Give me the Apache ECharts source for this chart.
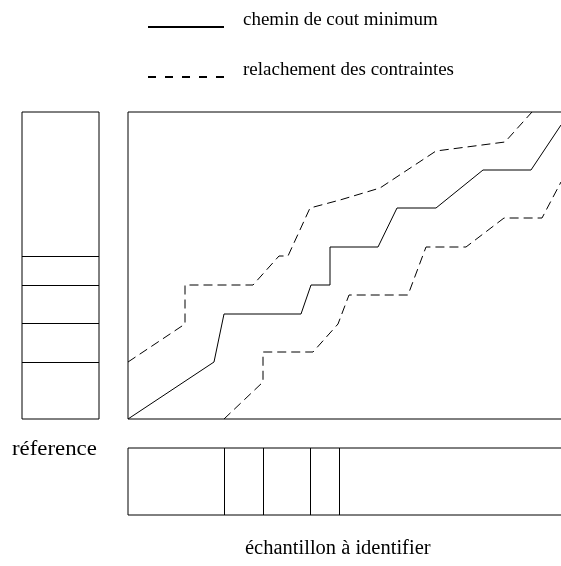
<!DOCTYPE html>
<html>
<head>
<meta charset="utf-8">
<script src="https://cdn.jsdelivr.net/npm/echarts@6/dist/echarts.min.js"></script>
<style>
  html, body { margin: 0; padding: 0; background: #fff; }
  #chart { width: 561px; height: 566px; }
</style>
</head>
<body>
<div id="chart"></div>
<script>
// path points [sample index, reference index]
const minCostPath = [[0, 0], [86, 57], [96, 105], [173, 105], [183, 134], [202, 134], [202, 172], [250, 172],
  [269, 211], [308, 211], [355, 249], [403, 249], [433, 294]];
const upperBound = [[0, 57], [57, 95], [57, 134], [125, 134], [151, 163], [160, 163], [182, 211], [212, 219],
  [252, 231], [308, 268], [377, 277], [404, 307]];
const lowerBound = [[96, 0], [135, 37], [135, 67], [185, 67], [210, 95], [221, 124], [280, 124], [298, 172],
  [338, 172], [376, 201], [414, 201], [433, 237]];

// segment boundaries of reference (vertical) and sample (horizontal)
const refBounds = [57, 96, 134, 163];
const sampleBounds = [96, 135, 182, 211];

const refLength = 307;
const sampleLength = 450; // runs past the right edge of the page

const labels = {
  path: 'chemin de cout minimum',
  relax: 'relachement des contraintes',
  ref: 'réference',
  sample: 'échantillon à identifier',
};

const font = '"Liberation Serif", "Times New Roman", serif';
const dash = [9, 5];

const chart = echarts.init(document.getElementById('chart'));

const hiddenAxis = (gridIndex, max) => ({
  type: 'value', gridIndex, min: 0, max,
  axisLine: { show: false }, axisTick: { show: false },
  axisLabel: { show: false }, splitLine: { show: false },
});

const gridBox = {
  show: true, borderColor: '#000', borderWidth: 1, backgroundColor: 'transparent',
  outerBoundsMode: 'none',
};

// legend draws only the line samples, the captions are placed next to them
const legendKey = (name, top, lineType) => ({
  left: 147, top, padding: 0,
  itemWidth: 76, itemHeight: 14,
  selectedMode: false,
  itemStyle: { opacity: 0 },
  lineStyle: { type: lineType },
  formatter: () => '',
  textStyle: { fontSize: 10 },
  data: [name],
});

const caption = (text, x, y, size, scaleX) => ({
  type: 'text', x, y, scaleX: scaleX || 1,
  style: { text, font: size + 'px ' + font, fill: '#000', verticalAlign: 'top' },
});

chart.setOption({
  animation: false,
  legend: [
    legendKey(labels.path, 20, 'solid'),
    legendKey(labels.relax, 70, [8, 9]),
  ],
  graphic: [
    caption(labels.path, 243, 11, 19),
    caption(labels.relax, 243, 61, 19),
    caption(labels.ref, 12, 440, 20, 1.14),
    caption(labels.sample, 245, 538.5, 20.5),
  ],
  grid: [
    Object.assign({ left: 128, top: 112, width: sampleLength, height: refLength }, gridBox),
    Object.assign({ left: 22, top: 112, width: 77, height: refLength }, gridBox),
    Object.assign({ left: 128, top: 448, width: sampleLength, height: 67 }, gridBox),
  ],
  xAxis: [hiddenAxis(0, sampleLength), hiddenAxis(1, 1), hiddenAxis(2, sampleLength)],
  yAxis: [hiddenAxis(0, refLength), hiddenAxis(1, refLength), hiddenAxis(2, 1)],
  series: [
    {
      name: labels.path, type: 'line', xAxisIndex: 0, yAxisIndex: 0,
      data: minCostPath, symbol: 'none', itemStyle: { color: '#000' },
      lineStyle: { color: '#000', width: 1, type: 'solid' },
    },
    {
      name: labels.relax, type: 'line', xAxisIndex: 0, yAxisIndex: 0,
      data: upperBound, symbol: 'none', itemStyle: { color: '#000' },
      lineStyle: { color: '#000', width: 1, type: dash },
    },
    {
      name: labels.relax, type: 'line', xAxisIndex: 0, yAxisIndex: 0,
      data: lowerBound, symbol: 'none', itemStyle: { color: '#000' },
      lineStyle: { color: '#000', width: 1, type: dash },
    },
    {
      type: 'line', xAxisIndex: 1, yAxisIndex: 1, data: [],
      markLine: {
        silent: true, symbol: ['none', 'none'], label: { show: false },
        lineStyle: { color: '#000', width: 1, type: 'solid' },
        data: refBounds.map(v => ({ yAxis: v })),
      },
    },
    {
      type: 'line', xAxisIndex: 2, yAxisIndex: 2, data: [],
      markLine: {
        silent: true, symbol: ['none', 'none'], label: { show: false },
        lineStyle: { color: '#000', width: 1, type: 'solid' },
        data: sampleBounds.map(v => ({ xAxis: v })),
      },
    },
  ],
});
</script>
</body>
</html>
